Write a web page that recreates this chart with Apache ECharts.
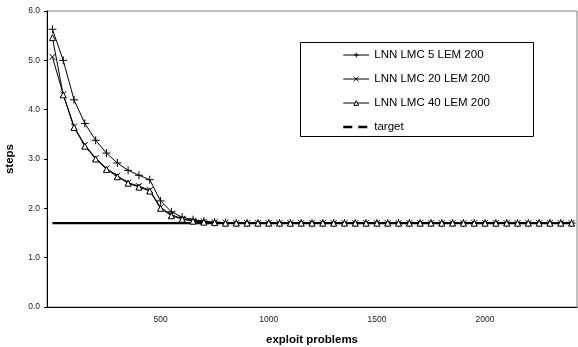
<!DOCTYPE html>
<html>
<head>
<meta charset="utf-8">
<script src="https://cdn.jsdelivr.net/npm/echarts@6/dist/echarts.min.js"></script>
<style>
  html, body { margin: 0; padding: 0; background: #fff; }
  #chart { width: 578px; height: 347px; }
</style>
</head>
<body>
<div id="chart"></div>
<script>
// exploit problems (category axis)
const problems = [0, 50, 100, 150, 200, 250, 300, 350, 400, 450,
    500, 550, 600, 650, 700, 750, 800, 850, 900, 950,
    1000, 1050, 1100, 1150, 1200, 1250, 1300, 1350, 1400, 1450,
    1500, 1550, 1600, 1650, 1700, 1750, 1800, 1850, 1900, 1950,
    2000, 2050, 2100, 2150, 2200, 2250, 2300, 2350, 2400];

const lmc5 = [5.63, 5.00, 4.20, 3.72, 3.38, 3.12, 2.92, 2.77, 2.67, 2.58,
    2.15, 1.93, 1.82, 1.77, 1.74, 1.72, 1.71, 1.70, 1.70, 1.70,
    1.70, 1.70, 1.70, 1.70, 1.70, 1.70, 1.70, 1.70, 1.70, 1.70,
    1.70, 1.70, 1.70, 1.70, 1.70, 1.70, 1.70, 1.70, 1.70, 1.70,
    1.70, 1.70, 1.70, 1.70, 1.70, 1.70, 1.70, 1.70, 1.70];
const lmc20 = [5.07, 4.31, 3.66, 3.28, 3.02, 2.81, 2.66, 2.52, 2.45, 2.37,
    2.02, 1.87, 1.79, 1.75, 1.73, 1.72, 1.71, 1.70, 1.70, 1.70,
    1.70, 1.70, 1.70, 1.70, 1.70, 1.70, 1.70, 1.70, 1.70, 1.70,
    1.70, 1.70, 1.70, 1.70, 1.70, 1.70, 1.70, 1.70, 1.70, 1.70,
    1.70, 1.70, 1.70, 1.70, 1.70, 1.70, 1.70, 1.70, 1.70];
const lmc40 = [5.46, 4.30, 3.64, 3.26, 3.00, 2.79, 2.64, 2.51, 2.43, 2.35,
    2.00, 1.85, 1.78, 1.74, 1.72, 1.71, 1.70, 1.70, 1.70, 1.70,
    1.70, 1.70, 1.70, 1.70, 1.70, 1.70, 1.70, 1.70, 1.70, 1.70,
    1.70, 1.70, 1.70, 1.70, 1.70, 1.70, 1.70, 1.70, 1.70, 1.70,
    1.70, 1.70, 1.70, 1.70, 1.70, 1.70, 1.70, 1.70, 1.70];
const target = [1.70, 1.70, 1.70, 1.70, 1.70, 1.70, 1.70, 1.70, 1.70, 1.70,
    1.70, 1.70, 1.70, 1.70, 1.70, 1.70, 1.70, 1.70, 1.70, 1.70,
    1.70, 1.70, 1.70, 1.70, 1.70, 1.70, 1.70, 1.70, 1.70, 1.70,
    1.70, 1.70, 1.70, 1.70, 1.70, 1.70, 1.70, 1.70, 1.70, 1.70,
    1.70, 1.70, 1.70, 1.70, 1.70, 1.70, 1.70, 1.70, 1.70];

const names = ['LNN LMC 5 LEM 200', 'LNN LMC 20 LEM 200', 'LNN LMC 40 LEM 200', 'target'];
const font = 'Liberation Sans';

// only every 10th category gets a label / tick
function everyTen(i) {
    return i > 0 && i % 10 === 0;
}

const option = {
    animation: false,
    textStyle: { fontFamily: font },
    grid: {
        left: 47,
        right: 1,
        top: 11,
        bottom: 40,
        outerBoundsMode: 'none',
        containLabel: false,
        show: true,
        borderColor: '#808080',
        borderWidth: 1
    },
    graphic: [{
        type: 'rect',
        z: 1,
        shape: { x: 300.5, y: 42.5, width: 233, height: 94 },
        style: { fill: '#fff', stroke: '#000', lineWidth: 1 }
    }],
    legend: {
        orient: 'vertical',
        left: 342,
        top: 48,
        padding: 0,
        itemWidth: 26,
        itemHeight: 6,
        itemGap: 10,
        lineStyle: { width: 1 },
        itemStyle: { borderWidth: 1 },
        textStyle: { fontFamily: font, fontSize: 11.5, color: '#000', lineHeight: 14 },
        data: [
            { name: names[0] },
            { name: names[1] },
            { name: names[2] },
            { name: names[3], lineStyle: { type: [9, 6], width: 2.5 }, itemStyle: { opacity: 0 } }
        ]
    },
    xAxis: {
        type: 'category',
        data: problems,
        boundaryGap: true,
        name: 'exploit problems',
        nameLocation: 'middle',
        nameGap: 27,
        nameTextStyle: { fontFamily: font, fontSize: 11.5, fontWeight: 'bold', color: '#000' },
        axisLine: { lineStyle: { color: '#000', width: 1 } },
        axisTick: { interval: everyTen, length: 3, lineStyle: { color: '#000' } },
        axisLabel: { interval: everyTen, fontSize: 8.5, color: '#222', margin: 8 },
        splitLine: { show: false }
    },
    yAxis: {
        type: 'value',
        min: 0,
        max: 6,
        interval: 1,
        name: 'steps',
        nameLocation: 'middle',
        nameGap: 31,
        nameTextStyle: { fontFamily: font, fontSize: 11.5, fontWeight: 'bold', color: '#000' },
        axisLine: { show: true, lineStyle: { color: '#000', width: 1 } },
        axisTick: { show: true, length: 3, lineStyle: { color: '#000' } },
        axisLabel: { fontSize: 8.5, color: '#222', margin: 7, formatter: v => v.toFixed(1) },
        splitLine: { show: false }
    },
    series: [
        {
            name: names[3],
            type: 'line',
            data: target,
            symbol: 'none',
            z: 2,
            lineStyle: { color: '#000', width: 2.2 },
            itemStyle: { color: '#000' }
        },
        {
            name: names[0],
            type: 'line',
            data: lmc5,
            symbol: 'path://M4,0V8M0,4H8',
            symbolSize: 8,
            showAllSymbol: true,
            z: 3,
            lineStyle: { color: '#000', width: 1 },
            itemStyle: { color: 'none', borderColor: '#000', borderWidth: 1 }
        },
        {
            name: names[1],
            type: 'line',
            data: lmc20,
            symbol: 'path://M0,0L6,6M0,6L6,0',
            symbolSize: 6,
            showAllSymbol: true,
            z: 3,
            lineStyle: { color: '#000', width: 1 },
            itemStyle: { color: 'none', borderColor: '#000', borderWidth: 1 }
        },
        {
            name: names[2],
            type: 'line',
            data: lmc40,
            symbol: 'triangle',
            symbolSize: 6,
            showAllSymbol: true,
            z: 3,
            lineStyle: { color: '#000', width: 1 },
            itemStyle: { color: '#fff', borderColor: '#000', borderWidth: 1 }
        }
    ]
};

const chart = echarts.init(document.getElementById('chart'));
chart.setOption(option);
</script>
</body>
</html>
